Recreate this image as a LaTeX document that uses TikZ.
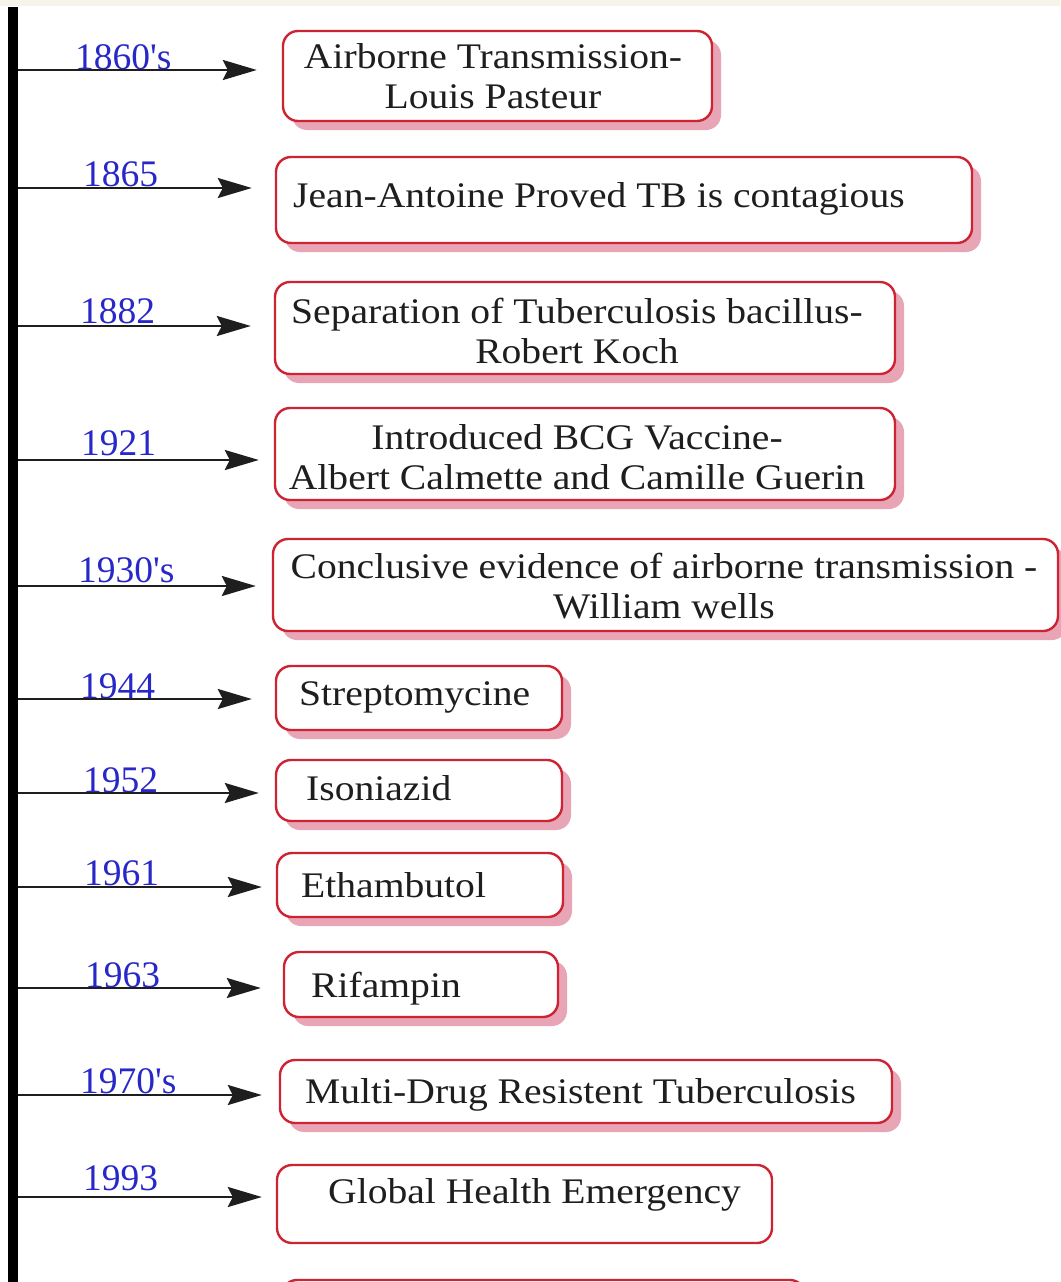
\documentclass[tikz,border=0pt]{standalone}
\usepackage{fontspec}
\setmainfont{Liberation Serif}
\newfontfamily\boxfont[FakeStretch=1.1]{Liberation Serif}
\usetikzlibrary{arrows.meta,shadows}
\definecolor{boxred}{RGB}{205,35,50}
\definecolor{shadowpink}{RGB}{232,165,182}
\definecolor{yearblue}{RGB}{40,40,200}
\definecolor{txtgray}{RGB}{30,30,30}
\definecolor{cream}{RGB}{246,244,234}
\begin{document}
\begin{tikzpicture}[x=1pt,y=-1pt,
  plainbox/.style={draw=boxred, line width=2.4pt, rounded corners=15pt, fill=white, inner sep=0pt},
  eventbox/.style={plainbox, drop shadow={shadow xshift=9pt, shadow yshift=-9pt, fill=shadowpink, opacity=1}},
  eventtext/.style={font=\boxfont\fontsize{36}{40}\selectfont, text=txtgray, inner sep=0pt},
  year/.style={font=\fontsize{37.5}{40}\selectfont, text=yearblue, inner sep=0pt, anchor=base west},
  tick/.style={draw=txtgray, line width=2.6pt, -{Stealth[length=34pt,width=20pt,inset=5pt]}},
  timeline/.style={draw=black, line width=10pt}
]
\useasboundingbox[fill=white] (0,0) rectangle (1060,1282);
\fill[cream] (0,0) rectangle (1060,6);

% timeline
\coordinate (ttop) at (13,7);
\coordinate (tbot) at (13,1300);
\draw[timeline] (ttop) -- (tbot);

% boxes
\node[eventbox, minimum width=429pt, minimum height=90pt] (b1) at (497.5,76) {};
\node[eventbox, minimum width=696pt, minimum height=86pt] (b2) at (624,200) {};
\node[eventbox, minimum width=620pt, minimum height=92pt] (b3) at (585,328) {};
\node[eventbox, minimum width=620pt, minimum height=92pt] (b4) at (585,454) {};
\node[eventbox, minimum width=785pt, minimum height=92pt] (b5) at (665.5,585) {};
\node[eventbox, minimum width=286pt, minimum height=64pt] (b6) at (419,698) {};
\node[eventbox, minimum width=286pt, minimum height=61pt] (b7) at (419,790.5) {};
\node[eventbox, minimum width=286pt, minimum height=64pt] (b8) at (420,885) {};
\node[eventbox, minimum width=274pt, minimum height=65pt] (b9) at (421,984.5) {};
\node[eventbox, minimum width=612pt, minimum height=63pt] (b10) at (586,1091.5) {};
\node[plainbox, minimum width=495pt, minimum height=78pt] (b11) at (524.5,1204) {};
\node[eventbox, minimum width=523pt, minimum height=70pt] (b12) at (543.5,1315) {};

% box texts
\node[eventtext, anchor=base] (x1a) at (493,68) {Airborne Transmission-};
\node[eventtext, anchor=base] (x1b) at (493,108) {Louis Pasteur};
\node[eventtext, anchor=base west] (x2) at (293,207) {Jean-Antoine Proved TB is contagious};
\node[eventtext, anchor=base] (x3a) at (577,323) {Separation of Tuberculosis bacillus-};
\node[eventtext, anchor=base] (x3b) at (577,363) {Robert Koch};
\node[eventtext, anchor=base] (x4a) at (577,449) {Introduced BCG Vaccine-};
\node[eventtext, anchor=base] (x4b) at (577,489) {Albert Calmette and Camille Guerin};
\node[eventtext, anchor=base] (x5a) at (664,578) {Conclusive evidence of airborne transmission -};
\node[eventtext, anchor=base] (x5b) at (664,618) {William wells};
\node[eventtext, anchor=base west] (x6) at (299,705) {Streptomycine};
\node[eventtext, anchor=base west] (x7) at (306,800) {Isoniazid};
\node[eventtext, anchor=base west] (x8) at (301,897) {Ethambutol};
\node[eventtext, anchor=base west] (x9) at (311,997) {Rifampin};
\node[eventtext, anchor=base west] (x10) at (305,1103) {Multi-Drug Resistent Tuberculosis};
\node[eventtext, anchor=base west] (x11) at (328,1203) {Global Health Emergency};

% year labels
\node[year] (y1) at (75,69) {1860\textquotesingle s};
\node[year] (y2) at (83,186) {1865};
\node[year] (y3) at (80,323) {1882};
\node[year] (y4) at (81,455) {1921};
\node[year] (y5) at (78,582) {1930\textquotesingle s};
\node[year] (y6) at (80,698) {1944};
\node[year] (y7) at (83,792) {1952};
\node[year] (y8) at (84,885) {1961};
\node[year] (y9) at (85,987) {1963};
\node[year] (y10) at (80,1093) {1970\textquotesingle s};
\node[year] (y11) at (83,1190) {1993};

% arrow starts on the timeline
\coordinate (s1) at (18,70);
\coordinate (s2) at (18,188);
\coordinate (s3) at (18,326);
\coordinate (s4) at (18,460);
\coordinate (s5) at (18,586);
\coordinate (s6) at (18,699);
\coordinate (s7) at (18,793);
\coordinate (s8) at (18,887);
\coordinate (s9) at (18,988);
\coordinate (s10) at (18,1095);
\coordinate (s11) at (18,1197);

\draw[tick, shorten >=25pt] (s1) -- (b1.west |- s1);
\draw[tick, shorten >=23pt] (s2) -- (b2.west |- s2);
\draw[tick, shorten >=23pt] (s3) -- (b3.west |- s3);
\draw[tick, shorten >=15pt] (s4) -- (b4.west |- s4);
\draw[tick, shorten >=16pt] (s5) -- (b5.west |- s5);
\draw[tick, shorten >=23pt] (s6) -- (b6.west |- s6);
\draw[tick, shorten >=16pt] (s7) -- (b7.west |- s7);
\draw[tick, shorten >=14pt] (s8) -- (b8.west |- s8);
\draw[tick, shorten >=22pt] (s9) -- (b9.west |- s9);
\draw[tick, shorten >=17pt] (s10) -- (b10.west |- s10);
\draw[tick, shorten >=14pt] (s11) -- (b11.west |- s11);
\end{tikzpicture}
\end{document}
